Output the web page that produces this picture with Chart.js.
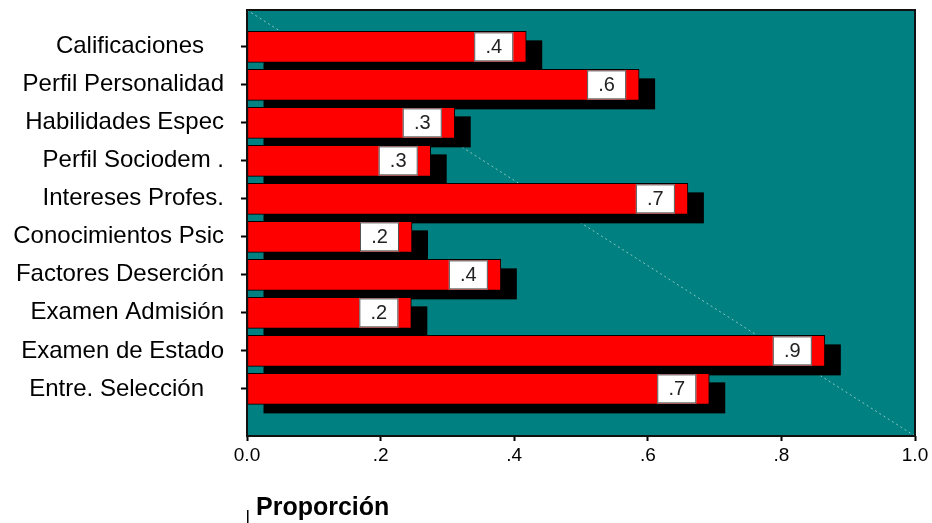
<!DOCTYPE html>
<html>
<head>
<meta charset="utf-8">
<script src="https://cdn.jsdelivr.net/npm/chart.js@4"></script>
<style>
  html, body { margin: 0; padding: 0; background: #fff; }
  #wrap { width: 932px; height: 523px; }
</style>
</head>
<body>
<div id="wrap"><canvas id="chart"></canvas></div>
<script>
const categories = [
  'Calificaciones   ',
  'Perfil Personalidad',
  'Habilidades Espec',
  'Perfil Sociodem .',
  'Intereses Profes.',
  'Conocimientos Psic',
  'Factores Deserción',
  'Examen Admisión',
  'Examen de Estado',
  'Entre. Selección   ',
];
const proportions = [0.418, 0.587, 0.311, 0.275, 0.660, 0.247, 0.380, 0.246, 0.865, 0.692];
const xTickLabels = ['0.0', '.2', '.4', '.6', '.8', '1.0'];
const axisTitle = 'Proporción';

const teal = '#008080';
const shadowOffset = { x: 16, y: 9 };

// value labels like ".4" from the data itself
function shortLabel(v) {
  return v.toFixed(1).replace(/^0/, '');
}

const plotPlugin = {
  id: 'plotDecor',
  beforeDraw(chart) {
    const { ctx, chartArea: a } = chart;
    ctx.save();
    ctx.fillStyle = teal;
    ctx.fillRect(a.left, a.top, a.right - a.left, a.bottom - a.top);
    ctx.restore();
  },
  beforeDatasetsDraw(chart) {
    const { ctx, chartArea: a } = chart;
    ctx.save();
    // faint diagonal reference line
    ctx.strokeStyle = 'rgba(200, 225, 225, 0.7)';
    ctx.lineWidth = 1;
    ctx.setLineDash([2, 3]);
    ctx.beginPath();
    ctx.moveTo(a.left, a.top);
    ctx.lineTo(a.right, a.bottom);
    ctx.stroke();
    ctx.setLineDash([]);
    // drop shadows behind the bars
    ctx.fillStyle = '#000';
    chart.getDatasetMeta(0).data.forEach((el) => {
      const p = el.getProps(['x', 'y', 'base', 'height'], true);
      ctx.fillRect(p.base + shadowOffset.x, p.y - p.height / 2 + shadowOffset.y, p.x - p.base, p.height);
    });
    ctx.restore();
  },
  afterDatasetsDraw(chart) {
    const { ctx, chartArea: a } = chart;
    ctx.save();
    // value boxes inside the bars
    ctx.font = '20px "Liberation Sans", Arial, sans-serif';
    ctx.textAlign = 'center';
    ctx.textBaseline = 'middle';
    chart.getDatasetMeta(0).data.forEach((el, i) => {
      const p = el.getProps(['x', 'y', 'height'], true);
      const w = 39;
      const bx = p.x - 13 - w;
      const by = p.y - p.height / 2 + 1;
      const bh = p.height - 2;
      ctx.fillStyle = '#fff';
      ctx.fillRect(bx, by, w, bh);
      ctx.strokeStyle = '#555';
      ctx.lineWidth = 1;
      ctx.strokeRect(bx + 0.5, by + 0.5, w - 1, bh - 1);
      ctx.fillStyle = '#222';
      ctx.fillText(shortLabel(proportions[i]), bx + w / 2, p.y + 1);
    });
    // plot frame
    ctx.strokeStyle = '#111';
    ctx.lineWidth = 2;
    ctx.strokeRect(a.left, a.top, a.right - a.left, a.bottom - a.top);
    ctx.restore();
  },
  afterDraw(chart) {
    const { ctx, chartArea: a } = chart;
    ctx.save();
    ctx.fillStyle = '#000';
    ctx.font = 'bold 25px "Liberation Sans Narrow", "Liberation Sans", Arial, sans-serif';
    ctx.textBaseline = 'alphabetic';
    ctx.textAlign = 'left';
    ctx.fillText(axisTitle, a.left + 9, 515);
    ctx.fillRect(a.left, 510, 1.5, 13);
    ctx.restore();
  },
};

new Chart(document.getElementById('chart'), {
  type: 'bar',
  data: {
    datasets: [{
      data: proportions.map((v, i) => ({ x: v, y: i })),
      backgroundColor: '#ff0000',
      borderColor: '#000',
      borderWidth: 1,
      borderSkipped: false,
      barThickness: 31,
    }],
  },
  options: {
    indexAxis: 'y',
    responsive: true,
    maintainAspectRatio: false,
    animation: false,
    layout: { padding: { top: 10, right: 17, left: 0, bottom: 0 } },
    plugins: {
      legend: { display: false },
      tooltip: { enabled: false },
    },
    scales: {
      x: {
        type: 'linear',
        min: 0,
        max: 1,
        ticks: {
          stepSize: 0.2,
          color: '#000',
          padding: 3,
          font: { family: '"Liberation Sans", Arial, sans-serif', size: 19 },
          callback: (v, i) => xTickLabels[i],
        },
        grid: { drawOnChartArea: false, color: '#000', tickLength: 5, tickWidth: 2 },
        border: { display: false },
        afterFit: (scale) => { scale.height = 87; },
      },
      y: {
        type: 'linear',
        reverse: true,
        offset: false,
        min: -0.97,
        max: 10.24,
        afterBuildTicks: (scale) => {
          scale.ticks = categories.map((c, i) => ({ value: i }));
        },
        ticks: {
          autoSkip: false,
          color: '#000',
          padding: 17,
          font: { family: '"Liberation Sans", Arial, sans-serif', size: 24 },
          callback: (v) => categories[v],
        },
        grid: { offset: false, drawOnChartArea: false, color: '#000', tickLength: 6, tickWidth: 2 },
        border: { display: false },
        afterFit: (scale) => {
          scale.width = 247;
          scale.paddingTop = 0;
          scale.paddingBottom = 0;
        },
      },
    },
  },
  plugins: [plotPlugin],
});
</script>
</body>
</html>
